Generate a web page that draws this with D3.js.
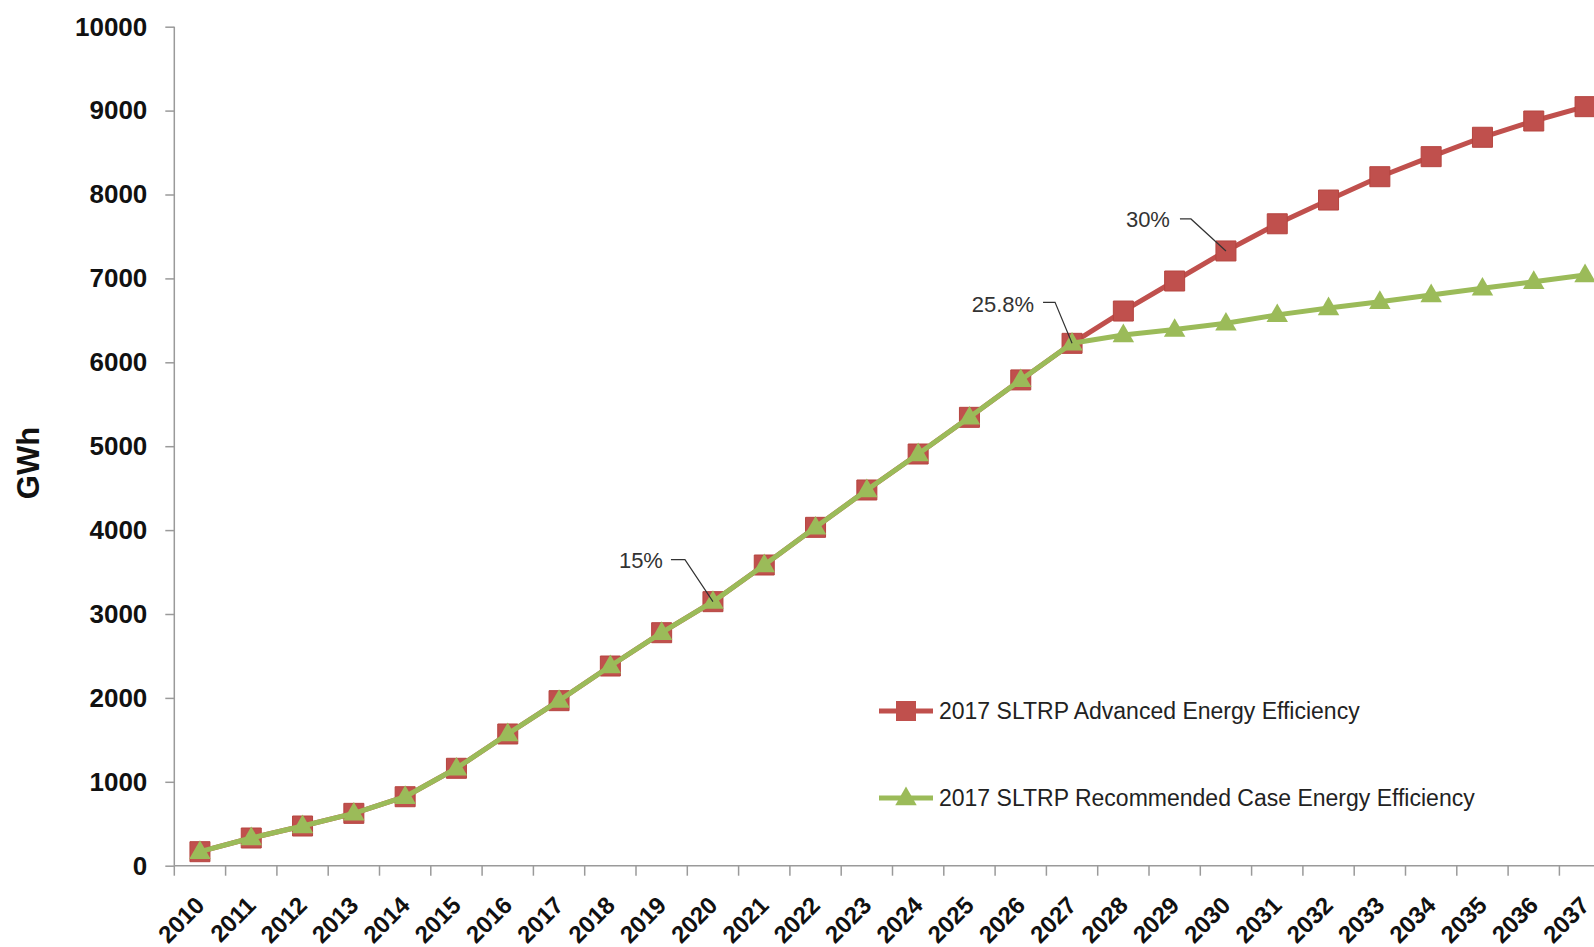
<!DOCTYPE html>
<html lang="en">
<head>
<meta charset="UTF-8">
<title>SLTRP Energy Efficiency</title>
<script src="https://d3js.org/d3.v7.min.js"></script>
<style>
body {margin: 0; background: white;}
svg {display: block; font-family: "Liberation Sans", Arial, sans-serif;}
.axis path, .axis line {stroke: #9a9a9a; stroke-width: 1.5;}
.ylab text {font-size: 26px; font-weight: bold; fill: #111;}
.xlab text {font-size: 24px; font-weight: bold; fill: #111;}
.legend text {font-size: 23px; fill: #222;}
.note text {font-size: 22px; fill: #333;}
</style>
</head>
<body>
<svg width="1594" height="947"></svg>
<script>
// years on the x axis
var years = d3.range(2010, 2038).map(String);

// GWh
var advanced = [167, 330, 473, 624, 822, 1161, 1570, 1967, 2380, 2777,
    3147, 3584, 4033, 4478, 4907, 5344, 5790, 6226, 6611, 6969,
    7327, 7651, 7934, 8212, 8451, 8682, 8876, 9047];
var recommended = [167, 330, 473, 624, 822, 1161, 1570, 1967, 2380, 2777,
    3147, 3584, 4033, 4478, 4907, 5344, 5790, 6226, 6325, 6390,
    6465, 6565, 6647, 6722, 6802, 6882, 6961, 7041];

var yTicks = [0, 1000, 2000, 3000, 4000, 5000, 6000, 7000, 8000, 9000, 10000];

var seriesNames = ["2017 SLTRP Advanced Energy Efficiency",
    "2017 SLTRP Recommended Case Energy Efficiency"];

var notes = [
    {label: "15%", year: "2020"},
    {label: "25.8%", year: "2027"},
    {label: "30%", year: "2030"}
];
// where each note sits relative to its point
var noteOffsets = [
    {tx: -50, ty: -34, lx1: -42, lx2: -28, ly: -42},
    {tx: -38, ty: -31, lx1: -29, lx2: -17, ly: -41},
    {tx: -56, ty: -24, lx1: -46, lx2: -35, ly: -32}
];

var red = "#C0504D", green = "#9BBB59";

var svg = d3.select("svg");
var left = 174.3, step = 51.3;

var x = d3.scaleBand().domain(years).range([left, left + step * years.length]).padding(0);
var y = d3.scaleLinear().domain([0, 10000]).range([865.7, 26.7]);

// y axis
var ya = svg.append("g").attr("class", "axis ylab")
    .attr("transform", "translate(" + left + ",0)")
    .call(d3.axisLeft(y).tickValues(yTicks).tickSize(9).tickPadding(18).tickFormat(d3.format("d")));
ya.select(".domain").attr("d", "M0," + y(10000) + "V" + y(0));

// x axis, ticks on the band edges
var xa = svg.append("g").attr("class", "axis xlab")
    .attr("transform", "translate(0," + y(0) + ")")
    .call(d3.axisBottom(x).tickSize(0).tickFormat(""));
xa.select(".domain").attr("d", "M" + left + ",0H" + (left + step * years.length));
xa.selectAll(".edge").data(years).enter().append("line")
    .attr("x1", function(d) {return x(d);})
    .attr("x2", function(d) {return x(d);})
    .attr("y1", 0).attr("y2", 10);
xa.selectAll(".tick text").remove();
xa.selectAll(".yl").data(years).enter().append("text")
    .attr("text-anchor", "end")
    .attr("transform", function(d) {
        return "translate(" + (x(d) + x.bandwidth() / 2 + 6) + ",41) rotate(-45)";
    })
    .text(function(d) {return d;});

svg.append("text")
    .attr("transform", "translate(39,463) rotate(-90)")
    .attr("text-anchor", "middle")
    .style("font-size", "31px").style("font-weight", "bold").style("fill", "#111")
    .text("GWh");

var cx = function(d, i) {return x(years[i]) + x.bandwidth() / 2;};
var line = d3.line().x(cx).y(function(d) {return y(d);});

// advanced series
svg.append("path").datum(advanced)
    .attr("d", line).attr("fill", "none")
    .attr("stroke", red).attr("stroke-width", 5).attr("stroke-linejoin", "round");
svg.append("g").selectAll("path").data(advanced).enter().append("path")
    .attr("d", d3.symbol().type(d3.symbolSquare).size(400))
    .attr("transform", function(d, i) {return "translate(" + cx(d, i) + "," + y(d) + ")";})
    .attr("fill", red).attr("stroke", "#b5443f").attr("stroke-width", 1);

// recommended series
svg.append("path").datum(recommended)
    .attr("d", line).attr("fill", "none")
    .attr("stroke", green).attr("stroke-width", 5).attr("stroke-linejoin", "round");
svg.append("g").selectAll("path").data(recommended).enter().append("path")
    .attr("d", d3.symbol().type(d3.symbolTriangle).size(200))
    .attr("transform", function(d, i) {return "translate(" + cx(d, i) + "," + (y(d) + 1) + ")";})
    .attr("fill", green);

// notes
notes.forEach(function(n, k) {
    var i = years.indexOf(n.year);
    var px = cx(advanced[i], i), py = y(advanced[i]);
    var o = noteOffsets[k];
    var g = svg.append("g").attr("class", "note");
    g.append("path")
        .attr("d", "M" + (px + o.lx1) + "," + (py + o.ly) + "H" + (px + o.lx2) + "L" + px + "," + py)
        .attr("fill", "none").attr("stroke", "#333").attr("stroke-width", 1.2);
    g.append("text").attr("x", px + o.tx).attr("y", py + o.ty)
        .attr("text-anchor", "end").text(n.label);
});

// legend
var legend = svg.append("g").attr("class", "legend");
var rows = legend.selectAll("g").data(seriesNames).enter().append("g")
    .attr("transform", function(d, i) {return "translate(879," + (711 + i * 87) + ")";});
rows.append("line").attr("x1", 0).attr("x2", 54)
    .attr("stroke", function(d, i) {return i ? green : red;}).attr("stroke-width", 5);
rows.append("path")
    .attr("transform", function(d, i) {return "translate(27," + (i ? 1 : 0) + ")";})
    .attr("d", function(d, i) {
        return d3.symbol().type(i ? d3.symbolTriangle : d3.symbolSquare).size(i ? 200 : 400)();
    })
    .attr("fill", function(d, i) {return i ? green : red;});
rows.append("text").attr("x", 60).attr("dy", "0.35em").text(function(d) {return d;});
</script>
</body>
</html>
